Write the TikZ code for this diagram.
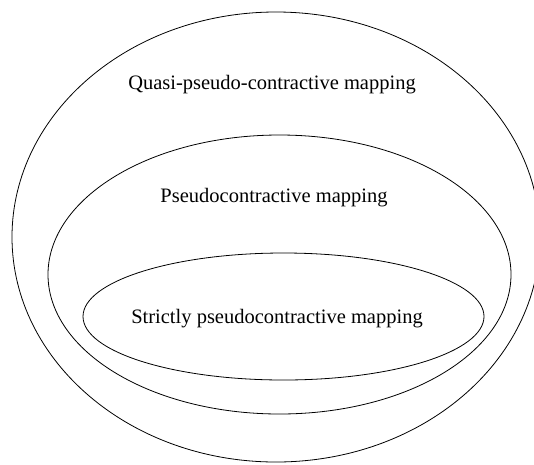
\documentclass[tikz,border=0pt]{standalone}
\usepackage{fontspec}
\setmainfont{Liberation Serif}
\usetikzlibrary{shapes.geometric}

\tikzset{
    setshape/.style={ellipse, draw=black, line width=0.8pt, inner sep=0pt},
    setlabel/.style={anchor=base, font=\fontsize{20.5}{24}\selectfont}
}

\begin{document}
\begin{tikzpicture}[x=1pt, y=-1pt]
    \useasboundingbox (0,0) rectangle (534,464);

    % Draw the three nested sets
    \node[setshape, minimum width=528pt, minimum height=450pt] (quasi) at (276,237) {};
    \node[setshape, minimum width=463pt, minimum height=279pt] (pseudo) at (279.5,274.5) {};
    \node[setshape, minimum width=401pt, minimum height=127pt] (strict) at (283.5,316.5) {};

    \node[setlabel] (quasilabel) at (272,89) {Quasi-pseudo-contractive mapping};
    \node[setlabel] (pseudolabel) at (274,202) {Pseudocontractive mapping};
    \node[setlabel] (strictlabel) at (277,323) {Strictly pseudocontractive mapping};
\end{tikzpicture}
\end{document}
